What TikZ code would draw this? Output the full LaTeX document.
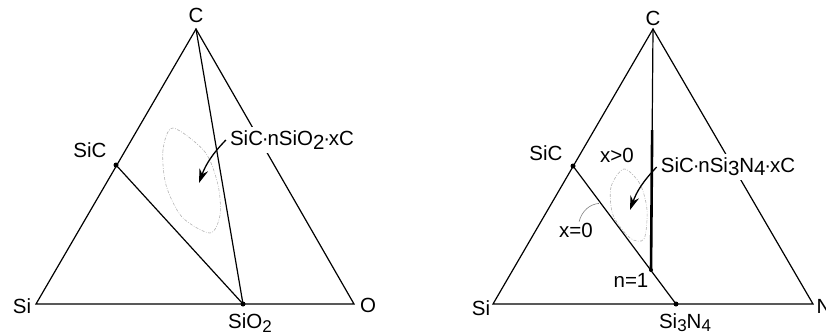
\documentclass[tikz,border=0pt]{standalone}
\usepackage{fontspec}
\setmainfont{Liberation Sans}
\usetikzlibrary{arrows.meta, calc}

\newcommand{\lowr}[1]{\raisebox{-0.3ex}{#1}}
\newcommand{\mdot}{\kern-1.2pt·\kern-1.2pt}

\begin{document}
\begin{tikzpicture}[
  x=1pt, y=-1pt,
  edge/.style={line width=1.2pt, line cap=round},
  heavy/.style={line width=2.6pt},
  lbl/.style={font=\fontsize{20.5}{22}\selectfont, inner sep=1pt},
  tag/.style={lbl, fill=white, inner sep=4pt},
  pt/.style={circle, fill, inner sep=0pt, minimum size=5pt},
  loopline/.style={gray!60, line width=0.6pt,
                   dash pattern=on 3pt off 1.5pt on 0.8pt off 1.5pt},
  arr/.style={-{Stealth[length=14pt, width=9pt]}, line width=1.3pt},
  lead/.style={gray, line width=0.6pt}
]
\useasboundingbox (0,0) rectangle (826,335);

% Si--C--O
\coordinate (siL) at (36,304);
\coordinate (oL)  at (354,304);
\coordinate (cL)  at (196,29);
\coordinate (sicL) at (116,165);
\coordinate (sioL) at (243,304);
\draw[edge] (siL) -- (oL) -- (cL) -- cycle;
\draw[edge] (sicL) -- (sioL);
\draw[edge] (cL) -- (sioL);
\node[pt] at (sicL) {};
\node[pt] at (sioL) {};
\node[lbl] (cLbl)  at (196,15)  {C};
\node[lbl] (siLbl) at (22,306)  {Si};
\node[lbl] (oLbl)  at (368,305) {O};
\node[lbl] (sicLbl) at (90,150) {SiC};
\node[lbl] (sioLbl) at (250,323) {SiO\lowr{\fontsize{17}{17}\selectfont 2}};
\draw[loopline] plot[smooth cycle] coordinates
  {(173,128) (163,150) (166,185) (182,217) (210,233) (220,215) (218,185) (205,152)};
\node[tag] (mixL) at (292,140) {SiC\mdot nSiO\lowr{2}\mdot xC};
\draw[arr] (mixL.west) to[bend right=12] (199,183);

% Si--C--N
\coordinate (siR) at (493,304);
\coordinate (nR)  at (813,304);
\coordinate (cR)  at (653,29);
\coordinate (sicR) at (573,166);
\coordinate (sinR) at (676,304);
\coordinate (n1)  at (651,270);
\coordinate (kink) at ($(cR)!0.42!(n1)$);
\draw[edge] (siR) -- (nR) -- (cR) -- cycle;
\draw[edge] (sicR) -- (sinR);
\draw[edge] (cR) -- (kink);
\draw[heavy] (kink) -- (n1);
\node[pt] at (sicR) {};
\node[pt] at (sinR) {};
\node[pt, minimum size=4pt] at (n1) {};
\node[lbl] (cRLbl)  at (653,18)  {C};
\node[lbl] (siRLbl) at (481,308) {Si};
\node[lbl] (nLbl)   at (824,306) {N};
\node[lbl] (sicRLbl) at (546,153) {SiC};
\node[lbl] (sinLbl) at (685,323) {Si\lowr{\fontsize{17}{17}\selectfont 3}N\lowr{\fontsize{17}{17}\selectfont 4}};
\node[lbl] (xgt) at (617,155) {x>0};
\node[lbl] (xeq) at (576,230) {x=0};
\node[lbl] (n1Lbl) at (631,280) {n=1};
\coordinate (xmark) at ($(sicR)!0.27!(sinR)$);
\draw[lead, shorten >=2pt] (xeq.70) to[bend left=35] (xmark);
\draw[loopline] plot[smooth cycle] coordinates
  {(624,169) (611,187) (613,215) (630,238) (644,239) (647,210) (640,184)};
\node[tag] (mixR) at (728,167) {SiC\mdot nSi\lowr{3}N\lowr{4}\mdot xC};
\draw[arr] (mixR.west) to[bend right=12] (630,210);
\end{tikzpicture}
\end{document}
